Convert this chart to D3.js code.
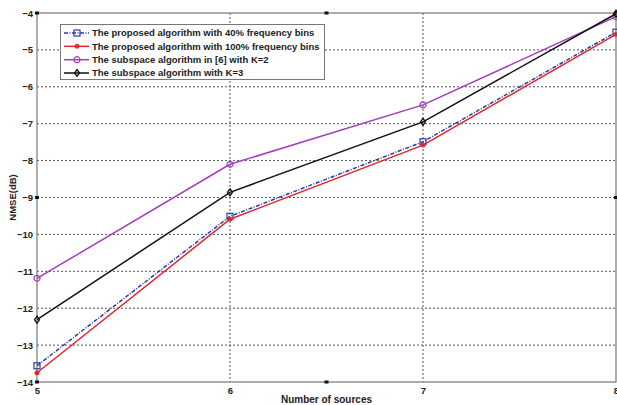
<!DOCTYPE html>
<html><head><meta charset="utf-8">
<script src="https://cdn.jsdelivr.net/npm/d3@7"></script>
<style>
body{margin:0;background:#fff;}
svg{display:block;font-family:"Liberation Sans",Arial,sans-serif;}
</style></head>
<body><svg id="c" width="617" height="405"></svg>
<script>
const sources = [5, 6, 7, 8];
const xTicks = [5, 6, 7, 8];
const yTicks = [-4, -5, -6, -7, -8, -9, -10, -11, -12, -13, -14];
const proposed40 = [-13.56, -9.51, -7.49, -4.52];
const proposed100 = [-13.75, -9.59, -7.58, -4.58];
const subspaceK2 = [-11.19, -8.10, -6.49, -4.10];
const subspaceK3 = [-12.31, -8.86, -6.95, -4.02];
const seriesNames = [
  "The proposed algorithm with 40% frequency bins",
  "The proposed algorithm with 100% frequency bins",
  "The subspace algorithm in [6] with K=2",
  "The subspace algorithm with K=3"
];

const svg = d3.select("#c");
const L = 37, R = 616, T = 13, B = 382;
const x = d3.scaleLinear().domain([5, 8]).range([L, R]);
const y = d3.scaleLinear().domain([-14, -4]).range([B, T]);

// grid
const g = svg.append("g");
g.selectAll(".hg").data(yTicks.slice(1, -1)).join("line")
  .attr("x1", L).attr("x2", R).attr("y1", d => y(d)).attr("y2", d => y(d))
  .attr("stroke", "#555").attr("stroke-width", 1).attr("stroke-dasharray", "2,2");
g.selectAll(".vg").data(xTicks.slice(1, -1)).join("line")
  .attr("y1", T).attr("y2", B).attr("x1", d => x(d)).attr("x2", d => x(d))
  .attr("stroke", "#555").attr("stroke-width", 1).attr("stroke-dasharray", "2,2");

// frame
svg.append("rect").attr("x", L).attr("y", T).attr("width", R - L).attr("height", B - T)
  .attr("fill", "none").attr("stroke", "#777").attr("stroke-width", 1.2);

// axes
const yAxis = d3.axisLeft(y).tickValues(yTicks).tickSize(0).tickPadding(4).tickFormat(d3.format("d"));
const ya = svg.append("g").attr("transform", `translate(${L},0)`).call(yAxis);
ya.select(".domain").remove();
ya.selectAll("text").attr("font-size", 9.5).attr("font-weight", "bold").attr("fill", "#222")
  .attr("font-family", "Liberation Sans, Arial, sans-serif");
const xAxis = d3.axisBottom(x).tickValues(xTicks).tickSize(0).tickPadding(5).tickFormat(d3.format("d"));
const xa = svg.append("g").attr("transform", `translate(0,${B})`).call(xAxis);
xa.select(".domain").remove();
xa.selectAll("text").attr("font-size", 9.5).attr("font-weight", "bold").attr("fill", "#222")
  .attr("font-family", "Liberation Sans, Arial, sans-serif");

// small marks on frame
const marks = [[5, -4], [5, -9], [5, -14], [6.5, -4], [6.5, -14], [8, -9], [8, -4]];
svg.selectAll(".mk").data(marks).join("rect")
  .attr("x", d => x(d[0]) - 2).attr("y", d => y(d[1]) - 1.5).attr("width", 4).attr("height", 3)
  .attr("fill", "#111");

// axis titles
svg.append("text").attr("x", x(6.5)).attr("y", 403).attr("text-anchor", "middle")
  .attr("font-size", 10).attr("font-weight", "bold").attr("fill", "#222").text("Number of sources");
svg.append("text").attr("transform", `translate(13,${y(-9)}) rotate(-90)`).attr("text-anchor", "middle")
  .attr("dy", "0.35em").attr("font-size", 9.5).attr("font-weight", "bold").attr("fill", "#222").text("NMSE(dB)");

const series = [
  {vals: proposed40, color: "#2b3aa8", dash: "4,1.5,1,1.5", marker: "square"},
  {vals: proposed100, color: "#e8252b", dash: null, marker: "plus"},
  {vals: subspaceK2, color: "#a33dbb", dash: null, marker: "circle"},
  {vals: subspaceK3, color: "#111", dash: null, marker: "diamond"}
];

function drawMarker(sel, type, color) {
  if (type === "square") {
    sel.append("rect").attr("x", -3).attr("y", -3).attr("width", 6).attr("height", 6)
      .attr("fill", "none").attr("stroke", color).attr("stroke-width", 1.2);
  } else if (type === "plus") {
    sel.append("path").attr("d", "M-2.5,0H2.5M0,-2.5V2.5M-1.8,-1.8L1.8,1.8M-1.8,1.8L1.8,-1.8")
      .attr("stroke", color).attr("stroke-width", 1.3);
  } else if (type === "circle") {
    sel.append("circle").attr("r", 3).attr("fill", "none").attr("stroke", color).attr("stroke-width", 1.2);
  } else if (type === "diamond") {
    sel.append("path").attr("d", "M0,-3.5L2.5,0L0,3.5L-2.5,0Z")
      .attr("fill", "none").attr("stroke", color).attr("stroke-width", 1.3);
  }
}

const line = d3.line().x((d, i) => x(sources[i])).y(d => y(d));
[0, 2, 3, 1].forEach(k => {
  const s = series[k];
  svg.append("path").attr("d", line(s.vals)).attr("fill", "none")
    .attr("stroke", s.color).attr("stroke-width", 1.5)
    .attr("stroke-dasharray", s.dash);
  s.vals.forEach((v, i) => {
    const mg = svg.append("g").attr("transform", `translate(${x(sources[i])},${y(v)})`);
    drawMarker(mg, s.marker, s.color);
  });
});

// legend
const lg = svg.append("g");
lg.append("rect").attr("x", 60.5).attr("y", 24.5).attr("width", 264).attr("height", 55)
  .attr("fill", "#fff").attr("stroke", "#777").attr("stroke-width", 1);
const rowY = [33, 46.3, 59.7, 73];
series.forEach((s, k) => {
  const yy = rowY[k];
  lg.append("line").attr("x1", 64).attr("x2", 89).attr("y1", yy).attr("y2", yy)
    .attr("stroke", s.color).attr("stroke-width", 1.5).attr("stroke-dasharray", s.dash);
  const mg = lg.append("g").attr("transform", `translate(77,${yy})`);
  drawMarker(mg, s.marker, s.color);
  lg.append("text").attr("x", 92).attr("y", yy).attr("dy", "0.35em")
    .attr("font-size", 9.5).attr("font-weight", "bold").attr("fill", "#222").text(seriesNames[k]);
});
</script></body></html>
